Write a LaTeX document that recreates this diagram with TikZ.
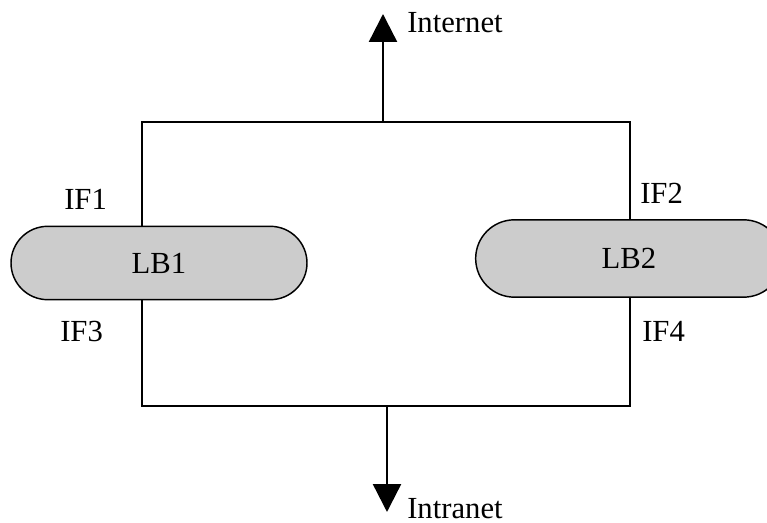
\documentclass[tikz,border=0pt]{standalone}
\usepackage{fontspec}
\setmainfont{Liberation Serif}
\usetikzlibrary{shapes.misc,arrows.meta}
\definecolor{lbgray}{HTML}{CCCCCC}
\tikzset{
  lbbox/.style={rounded rectangle, draw=black, line width=1.1pt, fill=lbgray,
    minimum width=222pt, minimum height=55pt, inner sep=0pt,
    font=\fontsize{23}{27}\selectfont},
  tag/.style={anchor=base west, inner sep=0pt, font=\fontsize{23}{27}\selectfont},
  wire/.style={line width=1.3pt, line join=miter},
  flow/.style={line width=1.8pt, -{Triangle[width=21pt,length=21pt]}}
}
\begin{document}
\begin{tikzpicture}[x=0.75pt,y=-0.75pt]
  \useasboundingbox (0,0) rectangle (767,523);
  % corners of the loop
  \coordinate (tl) at (142,122);
  \coordinate (tr) at (630,122);
  \coordinate (bl) at (142,406);
  \coordinate (br) at (630,406);
  \coordinate (up) at (383,122);
  \coordinate (dn) at (387,406);
  \coordinate (inet) at (383,14);
  \coordinate (lan) at (387,512);

  % load balancers (the right one runs past the edge)
  \node[lbbox] (lb1) at (159,263) {LB1};
  \node[lbbox, minimum width=230pt, minimum height=58pt] (lb2) at (629,258.5) {LB2};

  % loop wiring
  \draw[wire] (lb1.north -| tl) -- (tl) -- (tr) -- (lb2.north -| tr);
  \draw[wire] (lb1.south -| bl) -- (bl) -- (br) -- (lb2.south -| br);

  % uplink and downlink
  \draw[flow] (up) -- (inet);
  \draw[flow] (dn) -- (lan);

  % labels
  \node[tag] (tinet) at (407,33) {Internet};
  \node[tag] (tlan) at (407,518) {Intranet};
  \node[tag] (if1) at (64,210) {IF1};
  \node[tag] (if3) at (60,342) {IF3};
  \node[tag] (if2) at (640,204) {IF2};
  \node[tag] (if4) at (642,342) {IF4};
\end{tikzpicture}
\end{document}
